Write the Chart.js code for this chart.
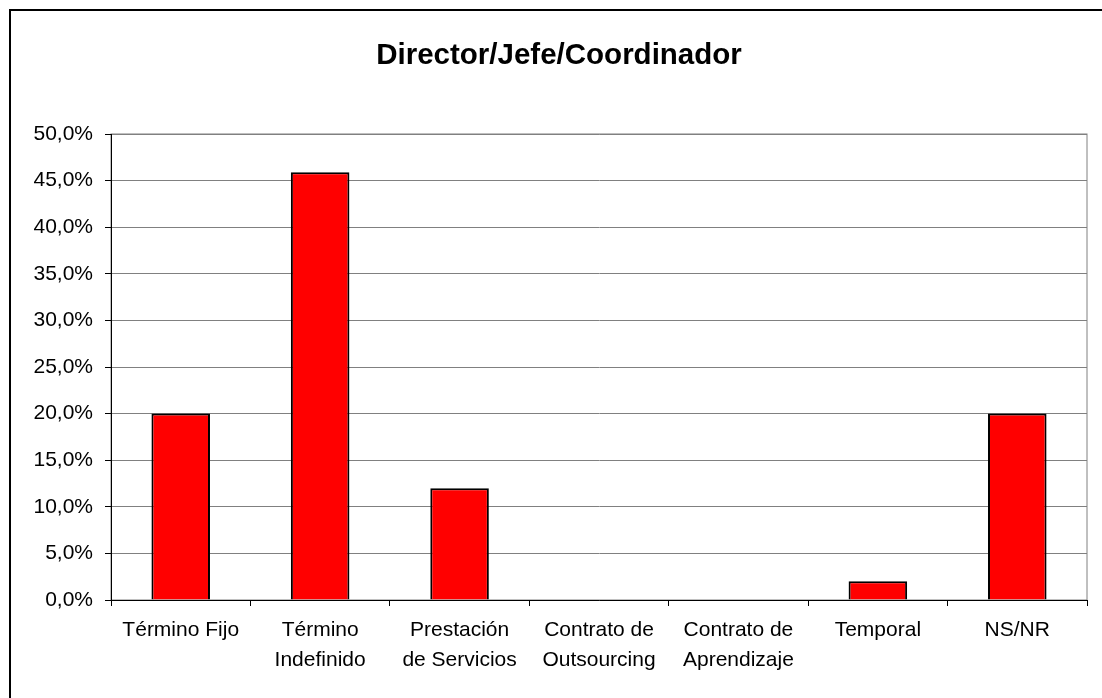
<!DOCTYPE html>
<html>
<head>
<meta charset="utf-8">
<script src="https://cdn.jsdelivr.net/npm/chart.js@4"></script>
<style>
  html, body { margin: 0; padding: 0; background: #fff; }
  #wrap { position: relative; width: 1102px; height: 698px; }
</style>
</head>
<body>
<div id="wrap"><canvas id="chart" width="1102" height="698"></canvas></div>
<script>
// 表示データ
const categories = [
    'Término Fijo',
    ['Término', 'Indefinido'],
    ['Prestación', 'de Servicios'],
    ['Contrato de', 'Outsourcing'],
    ['Contrato de', 'Aprendizaje'],
    'Temporal',
    'NS/NR'
];
const values = [20.0, 45.9, 12.0, 0, 0, 2.0, 20.0];
const yTicks = [0, 5, 10, 15, 20, 25, 30, 35, 40, 45, 50];

// 外枠と描画領域の枠線
const framePlugin = {
    id: 'frame',
    beforeDraw(chart) {
        const ctx = chart.ctx;
        const a = chart.chartArea;
        ctx.save();
        ctx.fillStyle = '#fff';
        ctx.fillRect(0, 0, chart.width, chart.height);
        ctx.strokeStyle = '#000';
        ctx.lineWidth = 2;
        ctx.strokeRect(10, 10, chart.width + 20, chart.height + 20);
        ctx.strokeStyle = '#808080';
        ctx.lineWidth = 1;
        ctx.strokeRect(a.left, a.top, a.right - a.left, a.bottom - a.top);
        ctx.restore();
    }
};

new Chart(document.getElementById('chart'), {
    type: 'bar',
    data: {
        labels: categories,
        datasets: [{
            data: values,
            backgroundColor: '#ff0000',
            borderColor: '#000',
            borderWidth: 2,
            barPercentage: 0.42,
            categoryPercentage: 1.0
        }]
    },
    options: {
        responsive: false,
        animation: false,
        layout: { padding: { left: 31, right: 15, top: 0, bottom: 0 } },
        plugins: {
            legend: { display: false },
            tooltip: { enabled: false },
            title: {
                display: true,
                text: 'Director/Jefe/Coordinador',
                color: '#000',
                font: { family: 'Liberation Sans, Arial', size: 29.5, weight: 'bold', lineHeight: 1.2 },
                padding: { top: 38.5, bottom: 60.1 }
            }
        },
        scales: {
            x: {
                grid: { offset: true, drawOnChartArea: false, tickLength: 6, tickColor: '#000' },
                border: { color: '#000', width: 1 },
                ticks: {
                    color: '#000',
                    padding: 9,
                    maxRotation: 0,
                    autoSkip: false,
                    font: { family: 'Liberation Sans, Arial', size: 21, lineHeight: 1.43 }
                },
                afterFit(scale) { scale.height = 98; }
            },
            y: {
                min: 0,
                max: 50,
                afterBuildTicks(scale) { scale.ticks = yTicks.map(v => ({ value: v })); },
                grid: { color: '#808080', tickColor: '#000', tickLength: 6 },
                border: { color: '#000', width: 1 },
                ticks: {
                    color: '#000',
                    padding: 12,
                    font: { family: 'Liberation Sans, Arial', size: 21 },
                    callback: v => v.toFixed(1).replace('.', ',') + '%'
                },
                afterFit(scale) { scale.width = 80; }
            }
        }
    },
    plugins: [framePlugin]
});
</script>
</body>
</html>
